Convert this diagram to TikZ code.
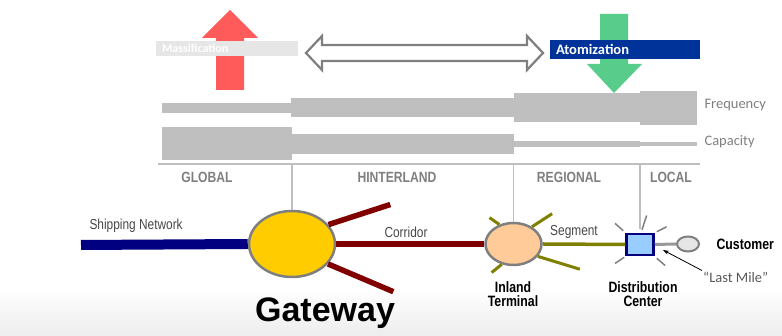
\documentclass[tikz,border=0pt]{standalone}
\usepackage{fontspec}
\setmainfont{Liberation Sans}
\newfontfamily\narrowfont[FakeStretch=0.82]{Liberation Sans}
\newfontfamily\calfont{Carlito}
\usepackage{tikz}
\usetikzlibrary{shapes.geometric,positioning,calc,arrows.meta}

\definecolor{massred}{HTML}{FF5B5B}
\definecolor{atomgreen}{HTML}{57CC8B}
\definecolor{atomblue}{HTML}{003399}
\definecolor{barfill}{HTML}{BFBFBF}
\definecolor{arrgray}{HTML}{7F7F7F}
\definecolor{shipblue}{HTML}{000080}
\definecolor{corrred}{HTML}{800000}
\definecolor{segolive}{HTML}{808000}
\definecolor{gatefill}{HTML}{FFCC00}
\definecolor{termfill}{HTML}{FFCC99}
\definecolor{dcfill}{HTML}{99CCFF}
\definecolor{custfill}{HTML}{E6E6E6}
\definecolor{textgray}{HTML}{595959}

\begin{document}
\begin{tikzpicture}[x=1pt,y=1pt,
    band/.style={rectangle, inner sep=0pt, inner xsep=6pt, align=left, text=white},
    bar/.style={fill=barfill, draw=none},
    tick/.style={draw=barfill, line width=1.8pt},
    zone/.style={text=arrgray, font=\narrowfont\bfseries\fontsize{14.8}{16}\selectfont},
    meas/.style={anchor=west, text=arrgray, font=\calfont\fontsize{14.5}{16}\selectfont},
    link/.style={text=textgray!80!black, font=\narrowfont\fontsize{14.5}{16}\selectfont},
    hub/.style={ellipse, draw=arrgray, line width=2.5pt, inner sep=0pt},
    place/.style={align=center, font=\narrowfont\bfseries\fontsize{15}{14}\selectfont},
    ray/.style={line width=3pt}]
  \useasboundingbox (0,0) rectangle (782,336);
  \shade[top color=white, bottom color=black!7] (0,0) rectangle (782,48);

  % massification / atomization
  \fill[massred] (216,246) -- (216,298) -- (202,298) -- (230,326) -- (258,298)
    -- (244,298) -- (244,246) -- cycle;
  \node[band, fill=custfill, minimum width=142, minimum height=15, text width=130,
    inner xsep=6pt, font=\calfont\bfseries\fontsize{12}{14}\selectfont] (mass) at (227,287.5) {Massification};
  \fill[atomgreen] (600,322) -- (628,322) -- (628,272) -- (642,272) -- (614,243)
    -- (587,272) -- (600,272) -- cycle;
  \node[band, fill=atomblue, minimum width=150, minimum height=19, text width=138,
    font=\calfont\bfseries\fontsize{14.5}{16}\selectfont] (atom) at (625,286.5) {Atomization};
  \draw[arrgray, line width=2.2pt, fill=white, line join=miter]
    (306,283) -- (322,300) -- (322,291) -- (527,291) -- (527,300) -- (543,283)
    -- (527,266) -- (527,275) -- (322,275) -- (322,266) -- cycle;

  % frequency and capacity
  \foreach \xa/\xb/\h in {162/291/5, 291/514/9.5, 514/640/14.5, 640/697/17}
    \fill[bar] (\xa,228-\h) rectangle (\xb,228+\h);
  \foreach \xa/\xb/\h in {162/292/16.5, 292/514/10, 514/640/3, 640/697/2}
    \fill[bar] (\xa,192-\h) rectangle (\xb,192+\h);
  \node[meas] (freq) at (701,231) {Frequency};
  \node[meas] (cap) at (701,194) {Capacity};
  \draw[barfill, line width=2.5pt] (158,172) -- (700,172);
  \node[zone] (global) at (207,159) {GLOBAL};
  \node[zone] (hinter) at (397,159) {HINTERLAND};
  \node[zone] (region) at (569,159) {REGIONAL};
  \node[zone] (local) at (671,159) {LOCAL};
  \coordinate (tg) at (292,172);
  \coordinate (ti) at (513.5,172);
  \coordinate (td) at (640,172);

  % network
  \coordinate (ship) at (81,91);
  \node[hub, fill=gatefill, minimum width=86, minimum height=66] (gw) at (292,92) {};
  \node[hub, fill=termfill, minimum width=56, minimum height=42] (it) at (513.5,92) {};
  \node[rectangle, draw=shipblue, fill=dcfill, line width=2.5pt, minimum width=27,
    minimum height=21, inner sep=0pt] (dc) at (640,91.5) {};
  \node[hub, fill=custfill, line width=2pt, minimum width=22, minimum height=15] (cu) at (688,92) {};

  \draw[tick] (tg) -- (gw.north);
  \draw[tick] (ti) -- (it.north);
  \draw[tick, shorten >=4pt] (td) -- (dc.north);

  \draw[shipblue, line width=10pt] (ship) -- (gw.west);
  \draw[corrred, line width=5.5pt] (gw.east) -- (it.west);
  \draw[corrred, line width=5.5pt] (gw.28) -- ++(18:65);
  \draw[corrred, line width=5.5pt] (gw.-29) -- ++(-23:71);
  \draw[segolive, line width=3.5pt] (it.east) -- (dc.west);
  \foreach \a/\d/\l in {126/145/12, 43/33/24, -27/-17/44, -120/-141/13}
    \draw[segolive, ray] (it.\a) -- ++(\d:\l);
  \draw[arrgray!80, line width=3pt] (dc.east) -- (cu.west);
  \draw[arrgray, line width=1.5pt] ([shift={(-2,2)}]dc.north west) -- ++(138:11);
  \draw[arrgray, line width=1.5pt] ([shift={(2,3)}]dc.north) -- ++(72:15);
  \draw[arrgray, line width=1.5pt] ([shift={(2,1)}]dc.north east) -- ++(27:11);
  \draw[arrgray, line width=1.5pt] ([shift={(-1,-1)}]dc.south west) -- ++(-146:11);
  \draw[arrgray, line width=1.5pt] ([shift={(2,-2)}]dc.south east) -- ++(-41:11);

  \node[link, anchor=west] (shiplbl) at (86,110) {Shipping Network};
  \node[link] (corrlbl) at (406,104) {Corridor};
  \node[link] (seglbl) at (574,104) {Segment};
  \node[font=\bfseries\fontsize{34}{36}\selectfont, anchor=base] (gwlbl) at (325,14) {Gateway};
  \node[place] (itlbl) at (513,42) {Inland\\Terminal};
  \node[place] (dclbl) at (643,42) {Distribution\\Center};
  \node[place, anchor=west] (culbl) at (713,92) {Customer};
  \node[anchor=west, inner sep=1pt, text=textgray, font=\calfont\fontsize{14.5}{16}\selectfont] (lm) at (702,59) {“Last Mile”};
  \coordinate (lmend) at (663,86);
  \draw[-{Stealth[length=6pt,width=4pt]}, line width=0.8pt] (lm.north west) -- (lmend);
\end{tikzpicture}
\end{document}
